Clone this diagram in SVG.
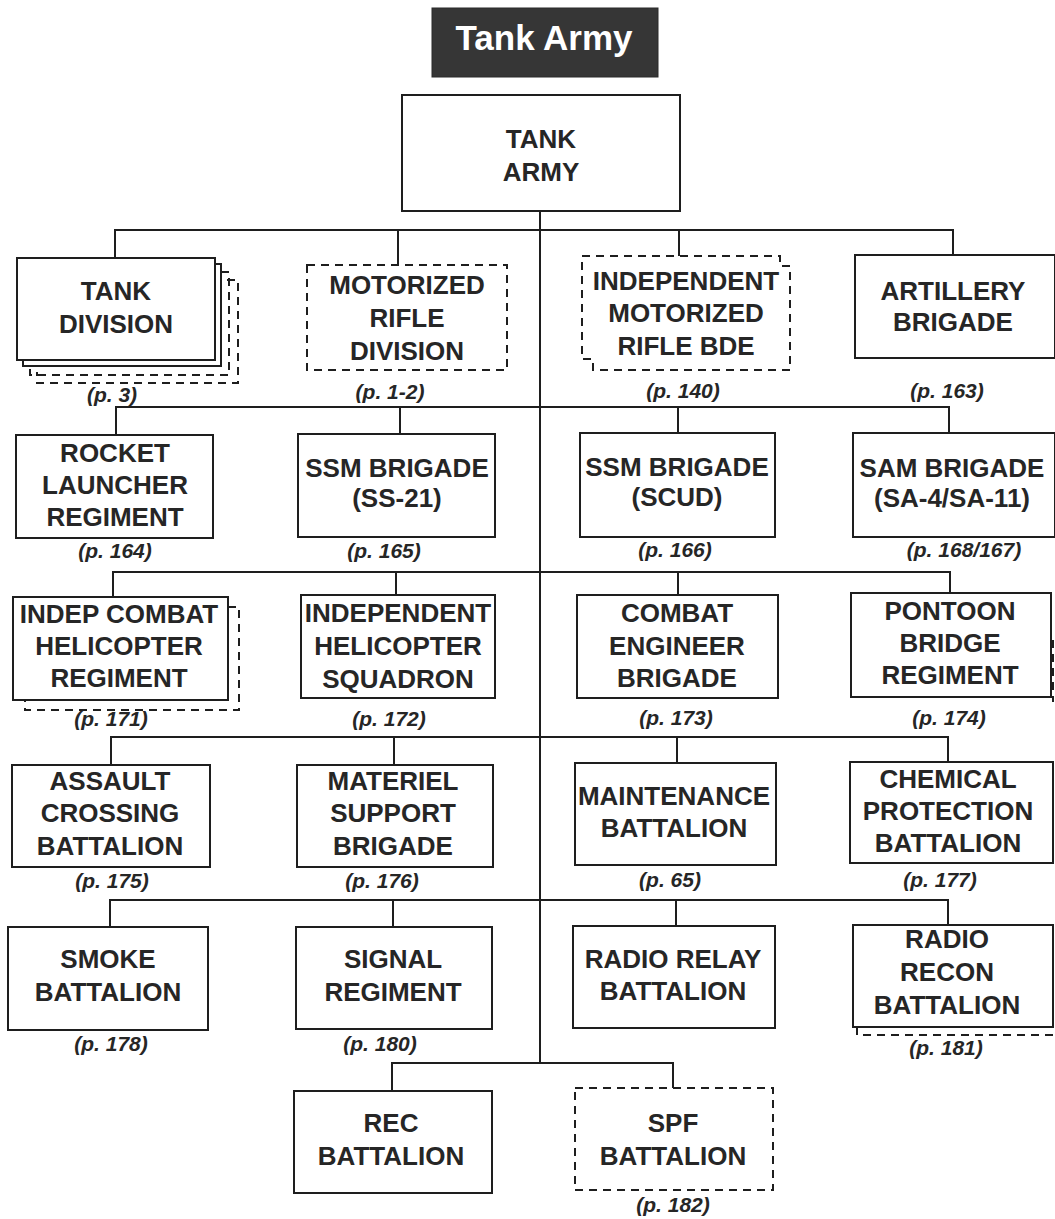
<svg xmlns="http://www.w3.org/2000/svg" width="1055" height="1219" viewBox="0 0 1055 1219">
<style>
.bx{fill:#fff;stroke:#1e1e1e;stroke-width:2}
.ds{fill:#fff;stroke:#1e1e1e;stroke-width:2;stroke-dasharray:8 6}
.dl{fill:none;stroke:#1e1e1e;stroke-width:2;stroke-dasharray:8 6}
.ln{fill:none;stroke:#1e1e1e;stroke-width:2}
.t{font-family:"Liberation Sans",Arial,sans-serif;font-weight:bold;font-size:26px;text-anchor:middle;fill:#262626}
.pg{font-family:"Liberation Sans",Arial,sans-serif;font-weight:bold;font-style:italic;font-size:21px;text-anchor:middle;fill:#262626}
</style>
<rect width="1055" height="1219" fill="#fff"/>
<g id="title">
<rect x="432" y="8" width="226" height="69" fill="#363636" stroke="#2a2a2a" stroke-width="1"/>
<text x="544" y="50" font-family="Liberation Sans,Arial,sans-serif" font-weight="bold" font-size="35" text-anchor="middle" fill="#fff">Tank Army</text>
</g>
<g id="connectors" class="ln">
<path d="M540,211 V1063"/>
<path d="M115,258 V230 H953 V255 M398,230 V265 M679,230 V256"/>
<path d="M116,435 V407 H949 V433 M400,407 V434 M678,407 V433"/>
<path d="M113,597 V572 H950 V593 M396,572 V595 M678,572 V595"/>
<path d="M111,765 V737 H948 V762 M394,737 V765 M677,737 V763"/>
<path d="M110,927 V900 H948 V925 M393,900 V927 M676,900 V926"/>
<path d="M392,1091 V1063 H673 V1088"/>
</g>
<g id="tank-army">
<rect class="bx" x="402" y="95" width="278" height="116"/>
<text class="t" x="541" y="148" font-size="33">TANK</text>
<text class="t" x="541" y="181" font-size="33">ARMY</text>
</g>
<g id="tank-division">
<path class="dl" d="M227,280 H238 V383 H37 V372"/>
<path class="dl" d="M221,272 H229 V375 H30 V366"/>
<path class="ln" d="M215,264 H221 V366 H23 V360"/>
<rect class="bx" x="17" y="258" width="198" height="102"/>
<text class="t" x="116" y="300">TANK</text>
<text class="t" x="116" y="333">DIVISION</text>
<text class="pg" x="112" y="402">(p. 3)</text>
</g>
<g id="motorized-rifle-division">
<rect class="ds" x="307" y="265" width="200" height="105"/>
<text class="t" x="407" y="294">MOTORIZED</text>
<text class="t" x="407" y="327">RIFLE</text>
<text class="t" x="407" y="360">DIVISION</text>
<text class="pg" x="390" y="399">(p. 1-2)</text>
</g>
<g id="indep-mr-bde">
<path class="ds" d="M582,256 H780 V266 H790 V370 H593 V359 H582 Z"/>
<text class="t" x="686" y="290">INDEPENDENT</text>
<text class="t" x="686" y="322">MOTORIZED</text>
<text class="t" x="686" y="355">RIFLE BDE</text>
<text class="pg" x="683" y="398">(p. 140)</text>
</g>
<g id="artillery-brigade">
<rect class="bx" x="855" y="255" width="200" height="103"/>
<text class="t" x="953" y="300">ARTILLERY</text>
<text class="t" x="953" y="331">BRIGADE</text>
<text class="pg" x="947" y="398">(p. 163)</text>
</g>
<g id="rocket-launcher-regiment">
<rect class="bx" x="16" y="435" width="197" height="103"/>
<text class="t" x="115" y="462">ROCKET</text>
<text class="t" x="115" y="494">LAUNCHER</text>
<text class="t" x="115" y="526">REGIMENT</text>
<text class="pg" x="115" y="558">(p. 164)</text>
</g>
<g id="ssm-brigade-ss21">
<rect class="bx" x="298" y="434" width="197" height="103"/>
<text class="t" x="397" y="477">SSM BRIGADE</text>
<text class="t" x="397" y="507">(SS-21)</text>
<text class="pg" x="384" y="558">(p. 165)</text>
</g>
<g id="ssm-brigade-scud">
<rect class="bx" x="580" y="433" width="195" height="104"/>
<text class="t" x="677" y="476">SSM BRIGADE</text>
<text class="t" x="677" y="506">(SCUD)</text>
<text class="pg" x="675" y="557">(p. 166)</text>
</g>
<g id="sam-brigade">
<rect class="bx" x="853" y="433" width="202" height="104"/>
<text class="t" x="952" y="477">SAM BRIGADE</text>
<text class="t" x="952" y="507">(SA-4/SA-11)</text>
<text class="pg" x="964" y="557">(p. 168/167)</text>
</g>
<g id="indep-combat-helicopter-regiment">
<path class="dl" d="M228,607 H239 V710 H25 V700"/>
<rect class="bx" x="13" y="597" width="215" height="103"/>
<text class="t" x="119" y="623">INDEP COMBAT</text>
<text class="t" x="119" y="655">HELICOPTER</text>
<text class="t" x="119" y="687">REGIMENT</text>
<text class="pg" x="111" y="726">(p. 171)</text>
</g>
<g id="independent-helicopter-squadron">
<rect class="bx" x="301" y="595" width="194" height="103"/>
<text class="t" x="398" y="622">INDEPENDENT</text>
<text class="t" x="398" y="655">HELICOPTER</text>
<text class="t" x="398" y="688">SQUADRON</text>
<text class="pg" x="389" y="726">(p. 172)</text>
</g>
<g id="combat-engineer-brigade">
<rect class="bx" x="577" y="595" width="201" height="103"/>
<text class="t" x="677" y="622">COMBAT</text>
<text class="t" x="677" y="655">ENGINEER</text>
<text class="t" x="677" y="687">BRIGADE</text>
<text class="pg" x="676" y="725">(p. 173)</text>
</g>
<g id="pontoon-bridge-regiment">
<path class="dl" d="M1053,640 V702"/>
<rect class="bx" x="851" y="593" width="200" height="104"/>
<text class="t" x="950" y="620">PONTOON</text>
<text class="t" x="950" y="652">BRIDGE</text>
<text class="t" x="950" y="684">REGIMENT</text>
<text class="pg" x="949" y="725">(p. 174)</text>
</g>
<g id="assault-crossing-battalion">
<rect class="bx" x="12" y="765" width="198" height="102"/>
<text class="t" x="110" y="790">ASSAULT</text>
<text class="t" x="110" y="822">CROSSING</text>
<text class="t" x="110" y="855">BATTALION</text>
<text class="pg" x="112" y="888">(p. 175)</text>
</g>
<g id="materiel-support-brigade">
<rect class="bx" x="297" y="765" width="196" height="102"/>
<text class="t" x="393" y="790">MATERIEL</text>
<text class="t" x="393" y="822">SUPPORT</text>
<text class="t" x="393" y="855">BRIGADE</text>
<text class="pg" x="382" y="888">(p. 176)</text>
</g>
<g id="maintenance-battalion">
<rect class="bx" x="575" y="763" width="201" height="102"/>
<text class="t" x="674" y="805">MAINTENANCE</text>
<text class="t" x="674" y="837">BATTALION</text>
<text class="pg" x="670" y="887">(p. 65)</text>
</g>
<g id="chemical-protection-battalion">
<rect class="bx" x="850" y="762" width="203" height="101"/>
<text class="t" x="948" y="788">CHEMICAL</text>
<text class="t" x="948" y="820">PROTECTION</text>
<text class="t" x="948" y="852">BATTALION</text>
<text class="pg" x="940" y="887">(p. 177)</text>
</g>
<g id="smoke-battalion">
<rect class="bx" x="8" y="927" width="200" height="103"/>
<text class="t" x="108" y="968">SMOKE</text>
<text class="t" x="108" y="1001">BATTALION</text>
<text class="pg" x="111" y="1051">(p. 178)</text>
</g>
<g id="signal-regiment">
<rect class="bx" x="296" y="927" width="196" height="102"/>
<text class="t" x="393" y="968">SIGNAL</text>
<text class="t" x="393" y="1001">REGIMENT</text>
<text class="pg" x="380" y="1051">(p. 180)</text>
</g>
<g id="radio-relay-battalion">
<rect class="bx" x="573" y="926" width="202" height="102"/>
<text class="t" x="673" y="968">RADIO RELAY</text>
<text class="t" x="673" y="1000">BATTALION</text>
</g>
<g id="radio-recon-battalion">
<path class="dl" d="M857,1027 V1035 H1055"/>
<rect class="bx" x="853" y="925" width="200" height="102"/>
<text class="t" x="947" y="948">RADIO</text>
<text class="t" x="947" y="981">RECON</text>
<text class="t" x="947" y="1014">BATTALION</text>
<text class="pg" x="946" y="1055">(p. 181)</text>
</g>
<g id="rec-battalion">
<rect class="bx" x="294" y="1091" width="198" height="102"/>
<text class="t" x="391" y="1132">REC</text>
<text class="t" x="391" y="1165">BATTALION</text>
</g>
<g id="spf-battalion">
<rect class="ds" x="575" y="1088" width="198" height="102"/>
<text class="t" x="673" y="1132">SPF</text>
<text class="t" x="673" y="1165">BATTALION</text>
<text class="pg" x="673" y="1212">(p. 182)</text>
</g>
</svg>
